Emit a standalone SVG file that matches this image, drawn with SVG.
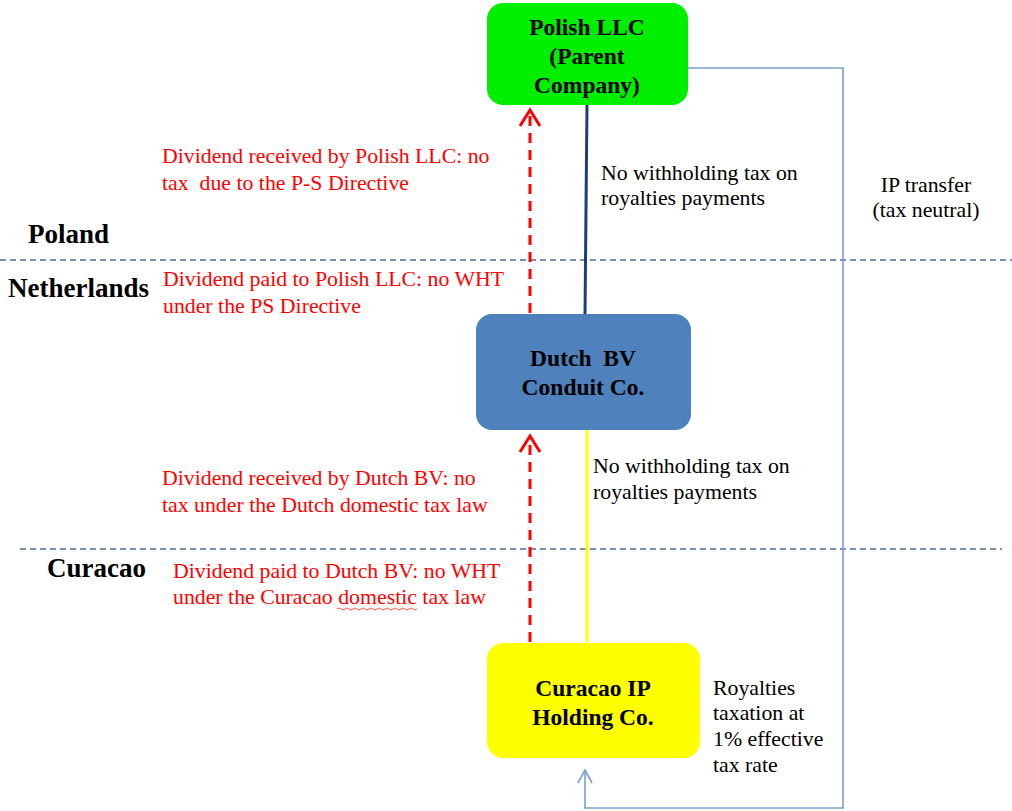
<svg xmlns="http://www.w3.org/2000/svg" width="1012" height="811" viewBox="0 0 1012 811">
  <style>
    .box-label { font-family: "Liberation Serif", "Times New Roman", serif; font-weight: bold; font-size: 23.5px; fill: #000; text-anchor: middle; }
    .note { font-family: "Liberation Serif", "Times New Roman", serif; font-size: 21.8px; fill: #000; }
    .red { font-family: "Liberation Serif", "Times New Roman", serif; font-size: 21.8px; fill: #ff0000; }
    .country { font-family: "Liberation Serif", "Times New Roman", serif; font-weight: bold; font-size: 27px; fill: #000; }
    .border { stroke: #4a6fa0; stroke-width: 1.3; stroke-dasharray: 6 4; fill: none; }
    .dividend { stroke: #ff0000; stroke-width: 3; stroke-dasharray: 10 7; fill: none; }
    .dividend-head { fill: none; stroke: #ff0000; stroke-width: 3; }
    .ip-flow { fill: none; stroke: #7a9fd2; stroke-width: 1.6; }
  </style>
  <rect width="1012" height="811" fill="#fff"/>

  <!-- country borders -->
  <g id="borders">
    <line class="border" x1="0" y1="260" x2="1012" y2="260"/>
    <line class="border" x1="20" y1="549" x2="1002" y2="549"/>
  </g>

  <!-- connectors -->
  <g id="connectors">
    <line x1="587" y1="104" x2="585" y2="315" stroke="#1f3f73" stroke-width="3"/>
    <line x1="587" y1="430" x2="587" y2="642" stroke="#ffff00" stroke-width="3"/>
    <path d="M530,313 L530,110" class="dividend"/>
    <path d="M520,126 L530,110 L540,126" class="dividend-head"/>
    <path d="M530,642 L530,436" class="dividend"/>
    <path d="M520,452 L530,436 L540,452" class="dividend-head"/>
    <path d="M688,68 L843,68 L843,808 L585,808 L585,770" class="ip-flow"/>
    <path d="M578,783 L585,770 L592,783" class="ip-flow"/>
  </g>

  <!-- nodes -->
  <g id="polish-llc">
    <rect x="487" y="3" width="201" height="102" rx="16" fill="#00ee00"/>
    <text class="box-label" x="587" y="35">Polish LLC</text>
    <text class="box-label" x="587" y="64">(Parent</text>
    <text class="box-label" x="587" y="93">Company)</text>
  </g>
  <g id="dutch-bv">
    <rect x="476" y="314" width="215" height="116" rx="16" fill="#4f81bd"/>
    <text class="box-label" x="583" y="366" xml:space="preserve">Dutch  BV</text>
    <text class="box-label" x="583" y="395">Conduit Co.</text>
  </g>
  <g id="curacao-ip">
    <rect x="487" y="643" width="213" height="115" rx="16" fill="#ffff00"/>
    <text class="box-label" x="593" y="696">Curacao IP</text>
    <text class="box-label" x="593" y="725">Holding Co.</text>
  </g>

  <!-- country labels -->
  <g id="countries">
    <text class="country" x="28" y="243">Poland</text>
    <text class="country" x="8" y="297">Netherlands</text>
    <text class="country" x="47" y="577">Curacao</text>
  </g>

  <!-- payment notes -->
  <g id="notes">
    <text class="note" x="601" y="180">No withholding tax on</text>
    <text class="note" x="601" y="205">royalties payments</text>
    <text class="note" x="926" y="192" text-anchor="middle">IP transfer</text>
    <text class="note" x="926" y="217" text-anchor="middle">(tax neutral)</text>
    <text class="note" x="593" y="473">No withholding tax on</text>
    <text class="note" x="593" y="499">royalties payments</text>
    <text class="note" x="713" y="695">Royalties</text>
    <text class="note" x="713" y="720">taxation at</text>
    <text class="note" x="713" y="746">1% effective</text>
    <text class="note" x="713" y="772">tax rate</text>
  </g>

  <!-- dividend notes -->
  <g id="dividend-notes">
    <text class="red" x="162" y="163">Dividend received by Polish LLC: no</text>
    <text class="red" x="162" y="190" xml:space="preserve">tax  due to the P-S Directive</text>
    <text class="red" x="163" y="286">Dividend paid to Polish LLC: no WHT</text>
    <text class="red" x="163" y="313">under the PS Directive</text>
    <text class="red" x="162" y="485">Dividend received by Dutch BV: no</text>
    <text class="red" x="162" y="512">tax under the Dutch domestic tax law</text>
    <text class="red" x="173" y="578">Dividend paid to Dutch BV: no WHT</text>
    <text class="red" x="173" y="604">under the Curacao domestic tax law</text>
    <path d="M337,609 q2,-2 4,0 t4,0 t4,0 t4,0 t4,0 t4,0 t4,0 t4,0 t4,0 t4,0 t4,0 t4,0 t4,0 t4,0 t4,0 t4,0 t4,0 t4,0 t4,0 t4,0" fill="none" stroke="#ff0000" stroke-width="1" opacity="0.7"/>
  </g>
</svg>
